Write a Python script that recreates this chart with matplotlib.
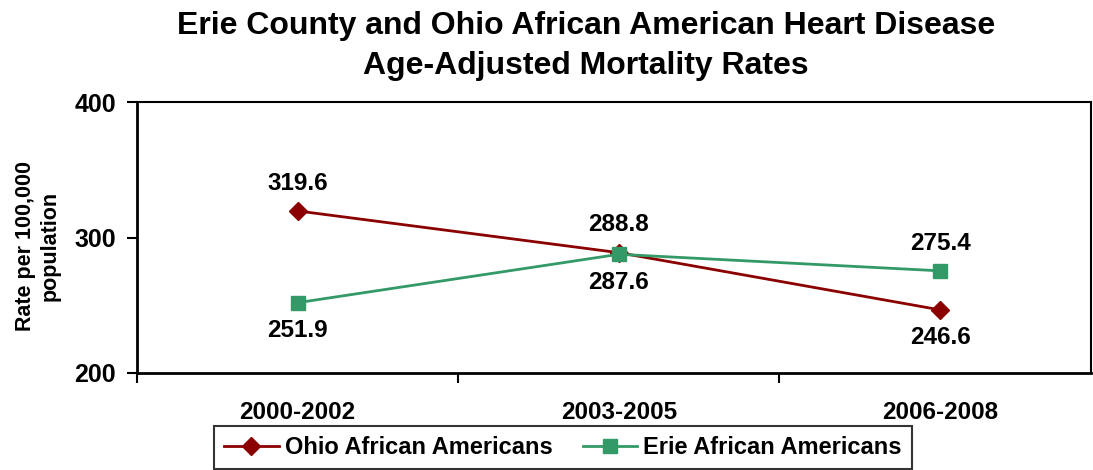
import matplotlib
matplotlib.use("Agg")
import matplotlib.pyplot as plt

periods = ["2000-2002", "2003-2005", "2006-2008"]
ohio = [319.6, 288.8, 246.6]
erie = [251.9, 287.6, 275.4]
yticks = [200, 300, 400]

plt.rcParams['font.family'] = ['Liberation Sans', 'DejaVu Sans']
plt.rcParams['font.weight'] = 'bold'

fig = plt.figure(figsize=(10.93, 4.70), dpi=100)
ax = fig.add_axes([137/1093, 1 - 373/470, (1091 - 137)/1093, (373 - 102)/470])

x = list(range(len(periods)))
ax.plot(x, ohio, color='#8B0000', marker='D', markersize=9, linewidth=2,
        label='Ohio African Americans')
ax.plot(x, erie, color='#339966', marker='s', markersize=10, linewidth=2,
        label='Erie African Americans')

ax.set_xlim(-0.5, 2.47)
ax.set_ylim(200, 400)
ax.set_yticks(yticks)
ax.set_yticklabels([str(v) for v in yticks], fontsize=18, fontweight='bold')
ax.set_xticks([-0.5, 0.5, 1.5])
ax.set_xticklabels([])
ax.set_xticks(x, minor=True)
ax.set_xticklabels(periods, minor=True, fontsize=17.5, fontweight='bold')
ax.tick_params(axis='x', which='minor', length=0, pad=20)
ax.tick_params(axis='x', which='major', length=7, width=1.5, direction='out')
ax.tick_params(axis='y', length=7, width=1.5, direction='out', pad=8)
for s in ax.spines.values():
    s.set_linewidth(1.5)
ax.spines['left'].set_linewidth(2)
ax.spines['bottom'].set_linewidth(2)

ax.set_ylabel('Rate per 100,000\npopulation', fontsize=15.5, fontweight='bold',
              labelpad=10, y=0.47)

# data labels
ohio_off = [20, 20, -20]
erie_off = [-20, -20, 20]
for i, v in enumerate(ohio):
    ax.annotate(f"{v:.1f}", (x[i], v), xytext=(0, ohio_off[i]), textcoords='offset points',
                ha='center', va='center', fontsize=17.5, fontweight='bold')
for i, v in enumerate(erie):
    ax.annotate(f"{v:.1f}", (x[i], v), xytext=(0, erie_off[i]), textcoords='offset points',
                ha='center', va='center', fontsize=17.5, fontweight='bold')

fig.text(586/1093, 1 - 46/470,
         'Erie County and Ohio African American Heart Disease\nAge-Adjusted Mortality Rates',
         fontsize=23, fontweight='bold', ha='center', va='center', linespacing=1.4)

leg = fig.legend(loc='center', bbox_to_anchor=(563/1093, 1 - 447.5/470), ncol=2,
                 frameon=True, fancybox=False, edgecolor='black',
                 prop={'size': 17, 'weight': 'bold'}, handlelength=2.3,
                 handletextpad=0.25, columnspacing=1.3, borderpad=0.42,
                 borderaxespad=0)
leg.get_frame().set_linewidth(1.5)

fig.savefig('out.png', dpi=100)
